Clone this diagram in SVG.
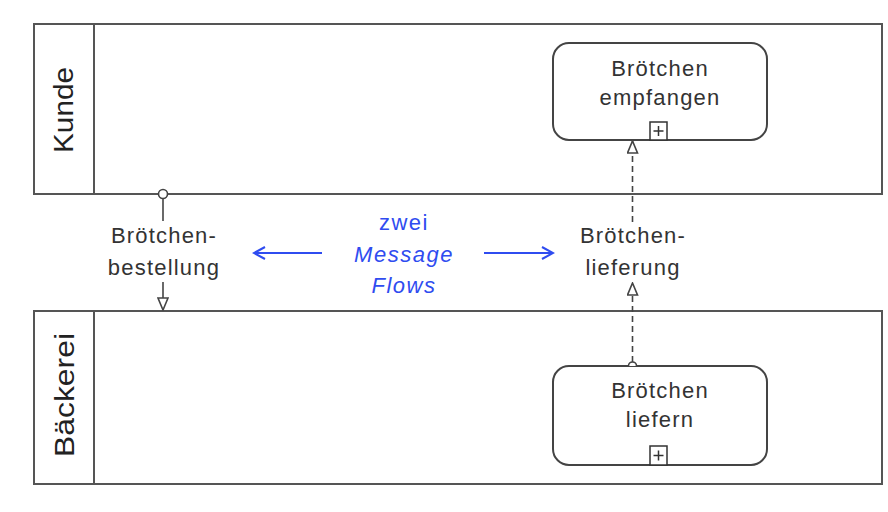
<svg xmlns="http://www.w3.org/2000/svg" width="888" height="512" viewBox="0 0 888 512">
<style>
.pool{fill:#fff;stroke:#555;stroke-width:2}
.task{fill:#fff;stroke:#444;stroke-width:2}
.mk{fill:#fff;stroke:#333;stroke-width:1.5}
.t{font-family:"Liberation Sans",Arial,sans-serif;font-size:22px;fill:#333;text-anchor:middle;letter-spacing:1.2px}
.lane{font-family:"Liberation Sans",Arial,sans-serif;font-size:28px;fill:#222;text-anchor:middle}
.b{font-family:"Liberation Sans",Arial,sans-serif;font-size:22px;fill:#2f4cf0;text-anchor:middle;letter-spacing:1.5px}
.mf{fill:none;stroke:#444;stroke-width:1.6}
.dash{stroke-dasharray:6 4}
.ba{fill:none;stroke:#2f4cf0;stroke-width:2}
</style>
<defs>
<marker id="open" viewBox="0 0 14 12" refX="13" refY="6" markerWidth="14" markerHeight="12" markerUnits="userSpaceOnUse" orient="auto">
<path d="M1,1 L13,6 L1,11 Z" fill="#fff" stroke="#444" stroke-width="1.6"/>
</marker>
<marker id="blue" viewBox="0 0 14 14" refX="12" refY="7" markerWidth="14" markerHeight="14" markerUnits="userSpaceOnUse" orient="auto">
<path d="M1,1 L12,7 L1,13" fill="none" stroke="#2f4cf0" stroke-width="2"/>
</marker>
</defs>
<rect width="888" height="512" fill="#fff"/>
<g id="pool-kunde">
<rect class="pool" x="34" y="24" width="848" height="170"/>
<line class="pool" x1="94" y1="24" x2="94" y2="194"/>
<text class="lane" transform="translate(73,110) rotate(-90)" textLength="86" lengthAdjust="spacingAndGlyphs">Kunde</text>
</g>
<g id="pool-baeckerei">
<rect class="pool" x="34" y="311" width="848" height="173"/>
<line class="pool" x1="94" y1="311" x2="94" y2="484"/>
<text class="lane" transform="translate(74,395) rotate(-90)" textLength="124" lengthAdjust="spacingAndGlyphs">Bäckerei</text>
</g>
<g id="task-empfangen">
<rect class="task" x="553" y="43" width="214" height="97" rx="16"/>
<text class="t" x="660" y="76">Brötchen</text>
<text class="t" x="660" y="105">empfangen</text>
<rect class="mk" x="650" y="122" width="17" height="18"/>
<path d="M653.5,131 h10 M658.5,126 v10" stroke="#333" stroke-width="1.5"/>
</g>
<g id="task-liefern">
<rect class="task" x="553" y="366" width="214" height="99" rx="16"/>
<text class="t" x="660" y="398">Brötchen</text>
<text class="t" x="660" y="427">liefern</text>
<rect class="mk" x="650" y="446" width="17" height="19"/>
<path d="M653.5,455.5 h10 M658.5,450.5 v10" stroke="#333" stroke-width="1.5"/>
</g>
<g id="connectors">
<circle cx="163" cy="194" r="4.5" fill="#fff" stroke="#444" stroke-width="1.6"/>
<line class="mf" x1="163" y1="198.5" x2="163" y2="221"/>
<line class="mf" x1="163" y1="282" x2="163" y2="310" marker-end="url(#open)"/>
<path d="M628.5,366 a4,4 0 0 1 8,0" fill="#fff" stroke="#444" stroke-width="1.6"/>
<line class="mf dash" x1="632.5" y1="362" x2="632.5" y2="283" marker-end="url(#open)"/>
<line class="mf dash" x1="632.5" y1="222" x2="632.5" y2="141" marker-end="url(#open)"/>
<line class="ba" x1="322" y1="253" x2="254" y2="253" marker-end="url(#blue)"/>
<line class="ba" x1="484" y1="253" x2="553" y2="253" marker-end="url(#blue)"/>
</g>
<g id="labels">
<rect x="100" y="222" width="128" height="58" fill="#fff"/>
<text class="t" x="164" y="243">Brötchen-</text>
<text class="t" x="164" y="275">bestellung</text>
<rect x="570" y="222" width="126" height="58" fill="#fff"/>
<text class="t" x="633" y="243">Brötchen-</text>
<text class="t" x="633" y="275">lieferung</text>
<text class="b" x="404" y="230">zwei</text>
<text class="b" x="404" y="262" font-style="italic">Message</text>
<text class="b" x="404" y="293" font-style="italic">Flows</text>
</g>
</svg>
